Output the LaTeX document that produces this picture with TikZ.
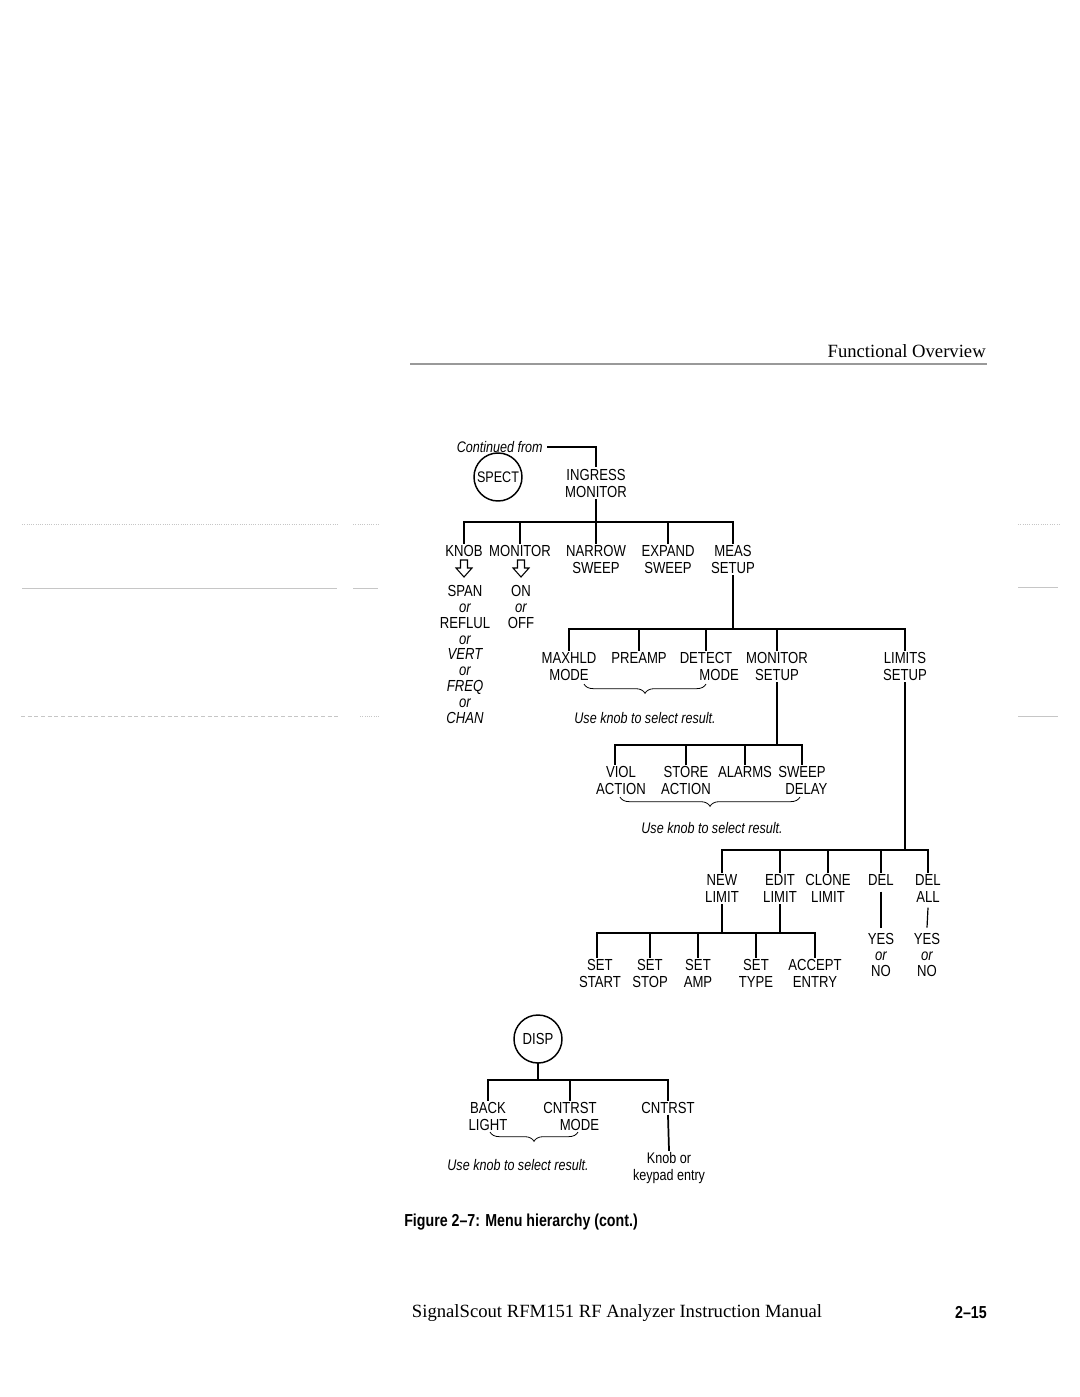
\documentclass[tikz,border=0pt]{standalone}
\usepackage{fontspec}
\setmainfont{Liberation Serif}
\newfontfamily\cnd[FakeStretch=0.82,Ligatures=TeX]{Liberation Sans}
\usetikzlibrary{decorations.pathreplacing}
\begin{document}
\begin{tikzpicture}[x=0.75pt,y=-0.75pt,
  lbl/.style={font=\cnd\fontsize{12}{13.1}\selectfont, align=center, inner sep=1.5pt, anchor=north},
  opt/.style={font=\cnd\fontsize{12}{11.9}\selectfont, align=center, inner sep=0pt, anchor=north},
  note/.style={font=\cnd\itshape\fontsize{11.5}{13}\selectfont, inner sep=0pt},
  tree/.style={line width=1.3pt, line cap=rect},
  circ/.style={draw, circle, line width=1.1pt, inner sep=0pt, minimum size=36pt, font=\cnd\fontsize{12}{13}\selectfont},
  brc/.style={decorate, decoration={brace, mirror, amplitude=7pt}, line width=0.6pt},
  harrow/.style={line width=0.8pt, line join=miter},
  faint/.style={line width=0.7pt, gray!45}
]
\useasboundingbox (0,0) rectangle (1080,1397);
\fill[white] (0,0) rectangle (1080,1397);

% page furniture
\node[anchor=east, inner sep=0pt, font=\fontsize{14}{16}\selectfont] (hdr) at (986,351) {Functional Overview};
\draw[line width=0.8pt, gray!80] (410,364) -- (987,364);
\draw[faint, densely dotted] (22,524) -- (338,524);
\draw[faint, densely dotted] (353,524) -- (378,524);
\draw[faint] (22,588) -- (337,588);
\draw[faint] (353,588) -- (378,588);
\draw[faint, densely dashed] (21,716) -- (338,716);
\draw[faint, densely dotted] (360,716) -- (380,716);
\draw[faint, densely dotted] (1018,524) -- (1059,524);
\draw[faint] (1018,587) -- (1058,587);
\draw[faint] (1018,716) -- (1058,716);
\node[anchor=center, inner sep=0pt, font=\fontsize{14}{16}\selectfont] (ftr) at (617,1313) {SignalScout RFM151 RF Analyzer Instruction Manual};
\node[anchor=east, inner sep=0pt, font=\cnd\bfseries\fontsize{13}{15}\selectfont] (pg) at (987,1313) {2\textendash 15};
\node[anchor=west, inner sep=0pt, font=\cnd\bfseries\fontsize{13}{15}\selectfont] (cap) at (404,1222) {Figure 2\textendash 7: Menu hierarchy (cont.)};

% top
\node[note, anchor=east] (cont) at (543,447) {Continued from};
\node[circ, font=\cnd\fontsize{11.5}{13}\selectfont] (spect) at (498,477) {SPECT};
\node[lbl] (ingress) at (596,467) {INGRESS\\MONITOR};
\draw[line width=0.9pt] (cont.east) ++(4,0) -| (ingress.north);

% level 1
\coordinate (b1) at (0,522);
\node[lbl] (knob) at (464,543) {KNOB};
\node[lbl] (monA) at (520,543) {MONITOR};
\node[lbl] (narrow) at (596,543) {NARROW\\SWEEP};
\node[lbl] (expand) at (668,543) {EXPAND\\SWEEP};
\node[lbl] (meas) at (733,543) {MEAS\\SETUP};
\draw[tree] (ingress.south) -- (ingress.south |- b1);
\draw[tree] (knob.north |- b1) -- (meas.north |- b1);
\foreach \n in {knob,monA,narrow,expand,meas} \draw[tree] (\n.north |- b1) -- (\n.north);

\draw[harrow, shift={(464,560)}] (-3.5,0) -- (-3.5,8) -- (-8,8) -- (0,17) -- (8,8) -- (3.5,8) -- (3.5,0) -- cycle;
\draw[harrow, shift={(521,560)}] (-3.5,0) -- (-3.5,8) -- (-8,8) -- (0,17) -- (8,8) -- (3.5,8) -- (3.5,0) -- cycle;
\node[opt] (span) at (465,585) {SPAN\\{\itshape or}\\REFLUL\\{\itshape or}\\{\itshape VERT}\\{\itshape or}\\{\itshape FREQ}\\{\itshape or}\\{\itshape CHAN}};
\node[opt] (onoff) at (521,585) {ON\\{\itshape or}\\OFF};

% level 2
\coordinate (b2) at (0,629);
\node[lbl] (maxhld) at (569,650) {MAXHLD\\MODE};
\node[lbl] (preamp) at (639,650) {PREAMP};
\node[lbl] (detect) at (706,650) {DETECT\\\hphantom{DET}MODE};
\node[lbl] (monset) at (777,650) {MONITOR\\SETUP};
\node[lbl] (limits) at (905,650) {LIMITS\\SETUP};
\draw[tree] (meas.south) -- (meas.south |- b2);
\draw[tree] (maxhld.north |- b2) -- (limits.north |- b2);
\foreach \n in {maxhld,preamp,detect,monset,limits} \draw[tree] (\n.north |- b2) -- (\n.north);
\coordinate (br1a) at (584,684);
\coordinate (br1b) at (706,684);
\draw[brc] (br1a) -- (br1b);
\node[note] (use1) at (645,718) {Use knob to select result.};

% level 3
\coordinate (b3) at (0,745);
\node[lbl] (viol) at (621,764) {VIOL\\ACTION};
\node[lbl] (store) at (686,764) {STORE\\ACTION};
\node[lbl] (alarms) at (745,764) {ALARMS};
\node[lbl] (sweepd) at (802,764) {SWEEP\\\hphantom{S}DELAY};
\coordinate (viold) at ([xshift=-4.5pt]viol.north);
\draw[tree] (monset.south) -- (monset.south |- b3);
\draw[tree] (viold |- b3) -- (sweepd.north |- b3);
\draw[tree] (viold |- b3) -- (viold);
\foreach \n in {store,alarms,sweepd} \draw[tree] (\n.north |- b3) -- (\n.north);
\coordinate (br2a) at (620,797);
\coordinate (br2b) at (800,797);
\draw[brc] (br2a) -- (br2b);
\node[note] (use2) at (712,828) {Use knob to select result.};

% level 4
\coordinate (b4) at (0,850);
\node[lbl] (newl) at (722,872) {NEW\\LIMIT};
\node[lbl] (editl) at (780,872) {EDIT\\LIMIT};
\node[lbl] (clonel) at (828,872) {CLONE\\LIMIT};
\node[lbl] (del) at (881,872) {DEL};
\node[lbl] (delall) at (928,872) {DEL\\ALL};
\draw[tree] (limits.south) -- (limits.south |- b4);
\draw[tree] (newl.north |- b4) -- (delall.north |- b4);
\foreach \n in {newl,editl,clonel,del,delall} \draw[tree] (\n.north |- b4) -- (\n.north);
\node[opt] (yes1) at (881,933) {YES\\{\itshape or}\\NO};
\node[opt] (yes2) at (927,933) {YES\\{\itshape or}\\NO};
\draw[line width=0.9pt] ([yshift=-3pt]del.south) -- ([yshift=4pt]yes1.north);
\draw[line width=0.9pt] ([yshift=-2pt]delall.south) -- ([yshift=4pt]yes2.north);

% level 5
\coordinate (b5) at (0,933);
\node[lbl] (sstart) at (600,957) {SET\\START};
\node[lbl] (sstop) at (650,957) {SET\\STOP};
\node[lbl] (samp) at (698,957) {SET\\AMP};
\node[lbl] (stype) at (756,957) {SET\\TYPE};
\node[lbl] (accept) at (815,957) {ACCEPT\\ENTRY};
\draw[tree] (newl.south) -- (newl.south |- b5);
\draw[tree] (editl.south) -- (editl.south |- b5);
\coordinate (startd) at ([xshift=-2pt]sstart.north);
\draw[tree] (startd |- b5) -- (accept.north |- b5);
\draw[tree] (startd |- b5) -- (startd);
\foreach \n in {sstop,samp,stype,accept} \draw[tree] (\n.north |- b5) -- (\n.north);

% DISP
\coordinate (b6) at (0,1080);
\node[circ] (disp) at (538,1039) {DISP};
\node[lbl] (back) at (488,1100) {BACK\\LIGHT};
\node[lbl] (cmode) at (570,1100) {CNTRST\\\hphantom{CN}MODE};
\node[lbl] (cntrst) at (668,1100) {CNTRST};
\draw[tree] (disp.south) -- (disp.south |- b6);
\draw[tree] (back.north |- b6) -- (cntrst.north |- b6);
\foreach \n in {back,cmode,cntrst} \draw[tree] (\n.north |- b6) -- (\n.north);
\coordinate (br3a) at (490,1132);
\coordinate (br3b) at (578,1132);
\draw[brc] (br3a) -- (br3b);
\node[note] (use3) at (518,1165) {Use knob to select result.};
\node[lbl, font=\cnd\fontsize{11.5}{13}\selectfont] (knobkey) at (669,1150) {Knob or\\keypad entry};
\draw[tree] (cntrst.south) -- (knobkey.north);
\end{tikzpicture}
\end{document}
